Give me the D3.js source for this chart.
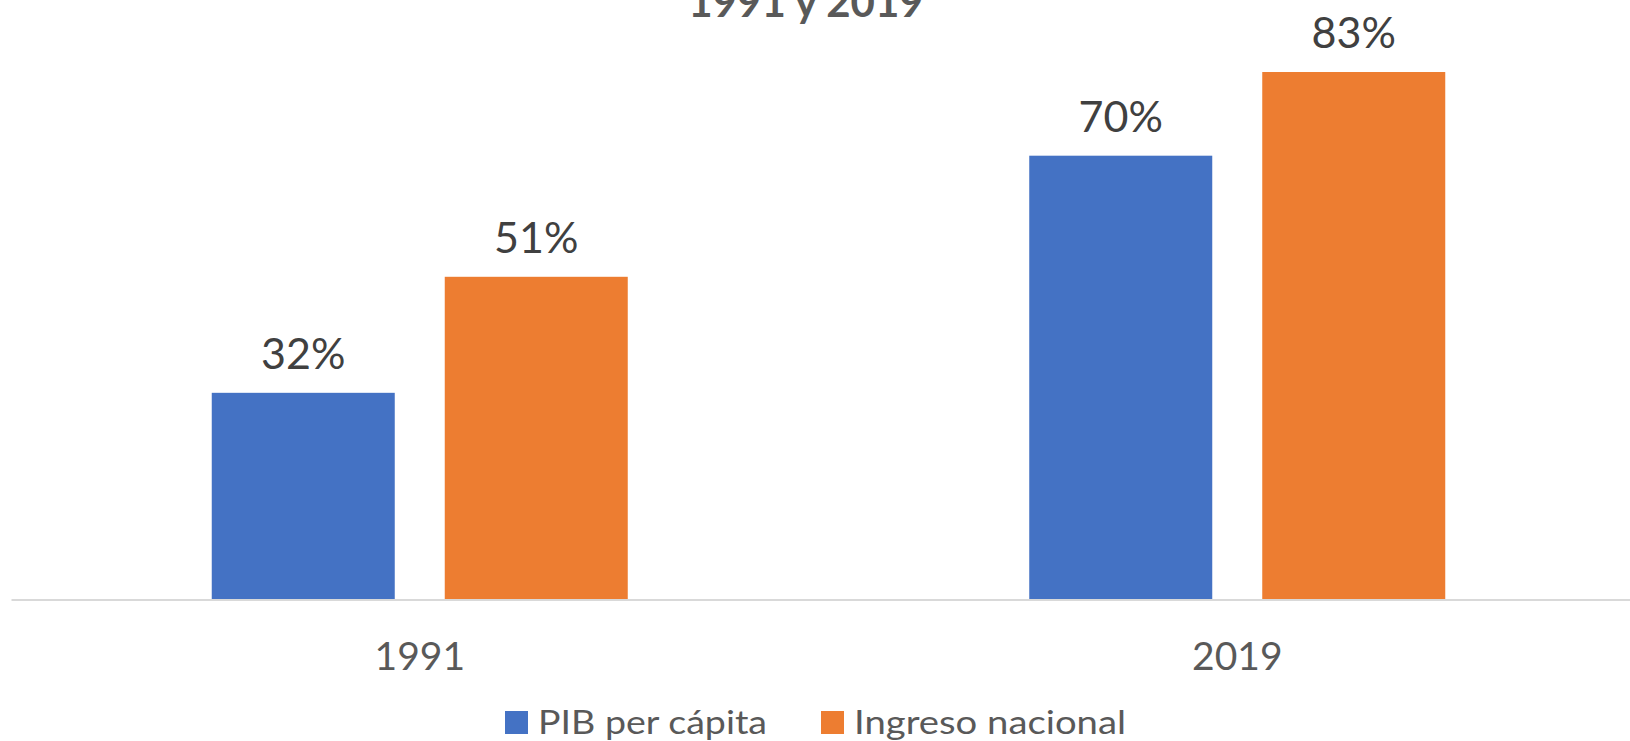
<!DOCTYPE html>
<html>
<head>
<meta charset="utf-8">
<script src="https://cdn.jsdelivr.net/npm/d3@7"></script>
<style>
  html, body { margin: 0; padding: 0; background: #fff; }
  svg { display: block; font-family: Lato, "Open Sans", sans-serif; }
</style>
</head>
<body>
<svg id="chart" width="1630" height="741"></svg>
<script>
const categories = ["1991", "2019"];
const seriesNames = ["PIB per cápita", "Ingreso nacional"];
const pibValues = [32.6, 70];
const ingresoValues = [50.9, 83.2];
const valueLabels = [["32%", "70%"], ["51%", "83%"]];
const titleText = "1991 y 2019";

const colors = ["#4472C4", "#ED7D31"];
const series = [pibValues, ingresoValues];

const svg = d3.select("#chart");
const baseY = 599.5;

const x = d3.scaleBand().domain(categories).range([11, 1646]).paddingInner(0).paddingOuter(0);
const groupW = 416;
const inner = d3.scaleBand().domain(d3.range(series.length)).range([0, groupW]).paddingInner(50 / 233).paddingOuter(0);
const y = d3.scaleLinear().domain([0, 100]).range([baseY, baseY - 634]);

// title (partially cut off at the top, as in the reference)
svg.append("text")
  .attr("x", 806).attr("y", 17)
  .attr("text-anchor", "middle")
  .attr("font-size", 42).attr("font-weight", 700)
  .attr("fill", "#595959")
  .text(titleText);

// bars
series.forEach((vals, si) => {
  categories.forEach((c, ci) => {
    const gx = x(c) + (x.bandwidth() - groupW) / 2 + inner(si);
    svg.append("rect")
      .attr("x", gx).attr("y", y(vals[ci]))
      .attr("width", inner.bandwidth())
      .attr("height", baseY - y(vals[ci]))
      .attr("fill", colors[si]);
    svg.append("text")
      .attr("x", gx + inner.bandwidth() / 2)
      .attr("y", y(vals[ci]) - 24)
      .attr("text-anchor", "middle")
      .attr("font-size", 43)
      .attr("fill", "#404040")
      .text(valueLabels[si][ci]);
  });
});

// axis
const axis = d3.axisBottom(x).tickSize(0).tickPadding(0);
const gAxis = svg.append("g").attr("transform", `translate(0,${baseY})`).call(axis);
gAxis.select(".domain").attr("stroke", "#d9d9d9").attr("stroke-width", 2.2);
gAxis.selectAll(".tick text")
  .attr("dy", 0).attr("y", 70.5)
  .attr("font-size", 39)
  .attr("font-family", "Lato, 'Open Sans', sans-serif")
  .attr("fill", "#595959");

// legend
const legendX = [505, 821];
const legendTextW = [229, 272];
seriesNames.forEach((n, i) => {
  svg.append("rect")
    .attr("x", legendX[i]).attr("y", 711)
    .attr("width", 23).attr("height", 23)
    .attr("fill", colors[i]);
  svg.append("text")
    .attr("x", legendX[i] + 33).attr("y", 734)
    .attr("font-size", 32)
    .attr("textLength", legendTextW[i])
    .attr("lengthAdjust", "spacingAndGlyphs")
    .attr("fill", "#595959")
    .text(n);
});
</script>
</body>
</html>
